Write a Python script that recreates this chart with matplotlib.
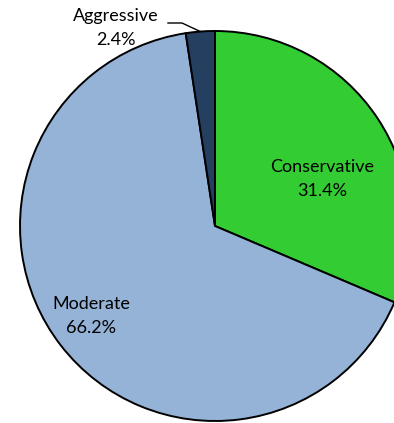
import numpy as np
import matplotlib.pyplot as plt

categories = ["Conservative", "Moderate", "Aggressive"]
shares = [31.4, 66.2, 2.4]
colors = ["#33CC33", "#95B3D7", "#243F60"]

W, H = 394, 423
plt.rcParams["font.family"] = ["Lato", "DejaVu Sans"]
fig = plt.figure(figsize=(W / 100, H / 100), dpi=100)
ax = fig.add_axes([0, 0, 1, 1])

cx, cy, r = 215, H - 226, 195
wedges, _ = ax.pie(shares, colors=colors, startangle=90, counterclock=False,
                   center=(cx, cy), radius=r, frame=True,
                   wedgeprops=dict(edgecolor="black", linewidth=1.4))
ax.set_xlim(0, W)
ax.set_ylim(0, H)
ax.set_aspect("equal")
ax.axis("off")

fs = 13

def label(i, x, y):
    ax.text(x, y, f"{categories[i]}\n{shares[i]:.1f}%", ha="center", va="center",
            fontsize=fs, linespacing=1.55, color="black")

label(0, 322, H - 179)
label(1, 91, H - 316)
label(2, 116, H - 28)

# leader line from the Aggressive label to its wedge
w = wedges[2]
mid = np.deg2rad((w.theta1 + w.theta2) / 2)
px, py = cx + r * np.cos(mid), cy + r * np.sin(mid)
ax.plot([168, 182, px], [H - 23, H - 23, py], color="black", lw=1.0, clip_on=False)

fig.savefig("out.png", dpi=100)
